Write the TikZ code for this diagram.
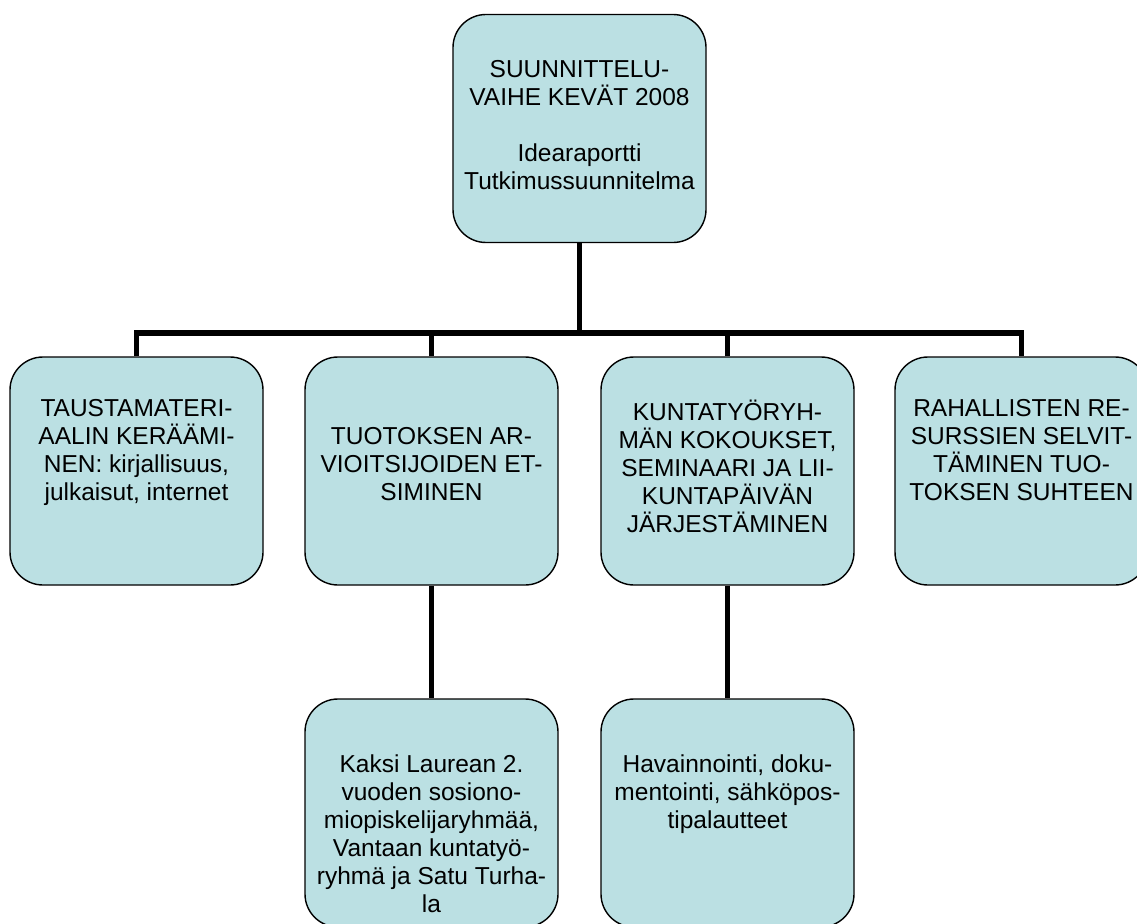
\documentclass[tikz,border=0pt]{standalone}
\usepackage{fontspec}
\setmainfont{Liberation Sans}
\usetikzlibrary{positioning}
\definecolor{boxfill}{RGB}{187,224,227}
\begin{document}
\begin{tikzpicture}[x=1pt,y=-1pt,
  box/.style={draw,fill=boxfill,line width=1.4pt,rounded corners=33pt,minimum width=253pt,minimum height=228pt,inner sep=0pt},
  txt/.style={align=center,inner sep=0pt,font=\fontsize{24.5}{28}\selectfont,execute at begin node={\rule{0pt}{22pt}}},
  conn/.style={line width=5.3pt,line join=miter}]
\useasboundingbox (0,0) rectangle (1137,923);
\clip (0,0) rectangle (1137,923);
\node[box] (P) at (579.5,128.5) {};
\node[box] (T) at (136.5,471) {};
\node[box] (A) at (431.5,471) {};
\node[box] (K) at (727.5,471) {};
\node[box] (R) at (1021.5,471) {};
\node[box] (L) at (431.5,813) {};
\node[box] (H) at (727.5,813) {};
\node[txt,below=46pt of P.north] (Pt) {SUUNNITTELU-\\VAIHE KEVÄT 2008\\[28pt]Idearaportti\\Tutkimussuunnitelma};
\node[txt,below=43pt of T.north] (Tt) {TAUSTAMATERI-\\AALIN KERÄÄMI-\\NEN: kirjallisuus,\\julkaisut, internet};
\node[txt,below=71pt of A.north] (At) {TUOTOKSEN AR-\\VIOITSIJOIDEN ET-\\SIMINEN};
\node[txt,below=43pt of K.north] (Kt) {KUNTATYÖRYH-\\MÄN KOKOUKSET,\\SEMINAARI JA LII-\\KUNTAPÄIVÄN\\JÄRJESTÄMINEN};
\node[txt,below=43pt of R.north] (Rt) {RAHALLISTEN RE-\\SURSSIEN SELVIT-\\TÄMINEN TUO-\\TOKSEN SUHTEEN};
\node[txt,below=56pt of L.north] (Lt) {Kaksi Laurean 2.\\vuoden sosiono-\\miopiskelijaryhmää,\\Vantaan kuntatyö-\\ryhmä ja Satu Turha-\\la};
\node[txt,below=56pt of H.north] (Ht) {Havainnointi, doku-\\mentointi, sähköpos-\\tipalautteet};
\coordinate (J) at (579.5,333);
\draw[conn] (P.south) -- (J);
\draw[conn] (T.north) |- (J) -| (R.north);
\draw[conn] (A.north) |- (J);
\draw[conn] (K.north) |- (J);
\draw[conn] (A.south) -- (L.north);
\draw[conn] (K.south) -- (H.north);
\end{tikzpicture}
\end{document}
